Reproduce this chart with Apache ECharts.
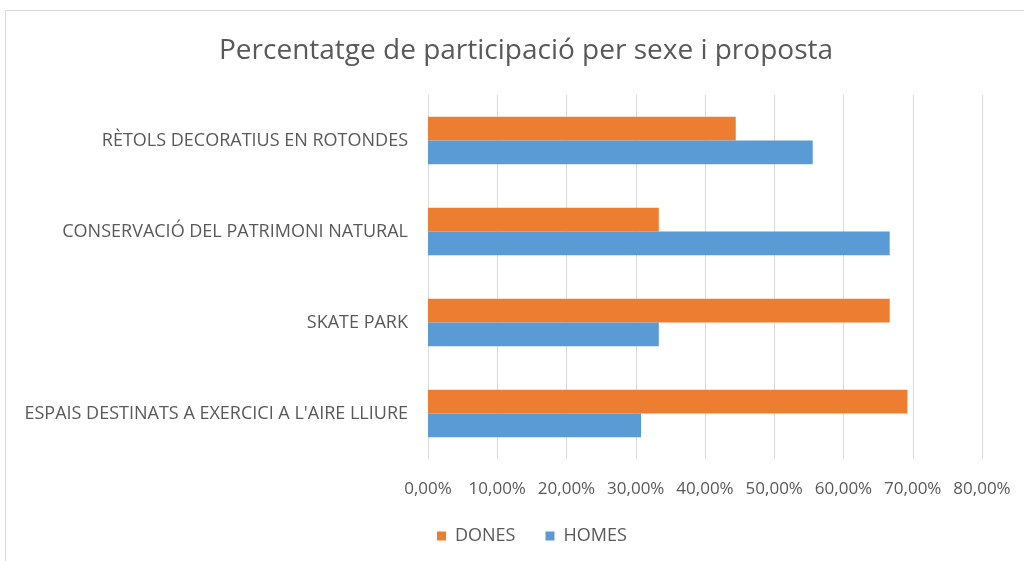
<!DOCTYPE html>
<html>
<head>
<meta charset="utf-8">
<script src="https://cdn.jsdelivr.net/npm/echarts@6/dist/echarts.min.js"></script>
<style>html,body{margin:0;padding:0;background:#fff;}#c{width:1024px;height:561px;}</style>
</head>
<body>
<div id="c"></div>
<script>
const categories = ["ESPAIS DESTINATS A EXERCICI A L'AIRE LLIURE", "SKATE PARK", "CONSERVACIÓ DEL PATRIMONI NATURAL", "RÈTOLS DECORATIUS EN ROTONDES"];
const dones = [69.23, 66.67, 33.33, 44.44];
const homes = [30.77, 33.33, 66.67, 55.56];
const seriesNames = ["DONES", "HOMES"];
const titleText = "Percentatge de participació per sexe i proposta";

const font = "'Open Sans', 'Noto Sans', sans-serif";
const chart = echarts.init(document.getElementById('c'), null, {renderer: 'canvas'});
chart.setOption({
  animation: false,
  backgroundColor: '#fff',
  graphic: [{
    type: 'polyline', silent: true,
    shape: {points: [[5.5, 561], [5.5, 10.5], [1024, 10.5]]},
    style: {stroke: '#d9d9d9', lineWidth: 1, fill: null}
  }],
  title: {
    text: titleText, left: 214, top: 32,
    textStyle: {fontFamily: font, fontSize: 28, fontWeight: 'normal', color: '#595959'}
  },
  legend: {
    data: seriesNames, left: 432, top: 522, itemWidth: 9, itemHeight: 9, itemGap: 30,
    icon: 'rect',
    textStyle: {fontFamily: font, fontSize: 18, color: '#595959', padding: [0, 0, 0, 4]}
  },
  grid: {left: 428, right: 42, top: 95, bottom: 102, containLabel: false},
  xAxis: {
    type: 'value', min: 0, max: 80, interval: 10,
    axisLine: {show: false}, axisTick: {show: false},
    splitLine: {lineStyle: {color: '#d9d9d9', width: 1}},
    axisLabel: {
      formatter: v => v.toFixed(2).replace('.', ',') + '%',
      fontFamily: font, fontSize: 17, color: '#595959', margin: 22
    }
  },
  yAxis: {
    type: 'category', data: categories,
    axisLine: {show: false}, axisTick: {show: false},
    axisLabel: {fontFamily: font, fontSize: 18, color: '#595959', margin: 20}
  },
  series: [
    {name: seriesNames[0], type: 'bar', data: dones, itemStyle: {color: '#ed7d31'}, barGap: '0%', barCategoryGap: '48%'},
    {name: seriesNames[1], type: 'bar', data: homes, itemStyle: {color: '#5b9bd5'}, barGap: '0%', barCategoryGap: '48%'}
  ]
});
</script>
</body>
</html>
